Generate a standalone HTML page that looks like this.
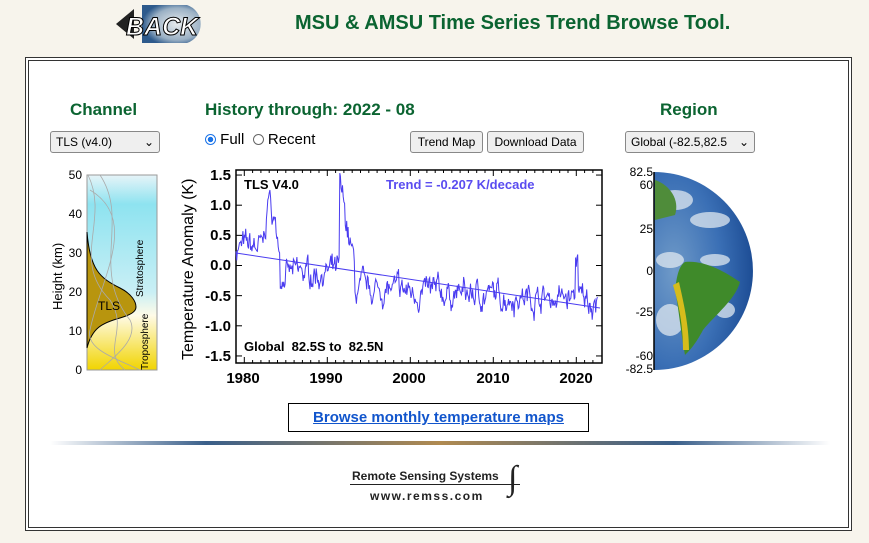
<!DOCTYPE html>
<html><head><meta charset="utf-8"><style>
body{margin:0;width:869px;height:543px;background:#f7f4ec;font-family:"Liberation Sans",sans-serif;position:relative;overflow:hidden}
.a{position:absolute}
.h{color:#0b6431;font-weight:bold}
.sel{position:absolute;border:1px solid #888;border-radius:3px;background:#efefef;font-size:12px;padding:2px 5px;box-sizing:border-box;height:22px;line-height:16px}
.btn{position:absolute;border:1px solid #888;border-radius:3px;background:#efefef;font-size:12px;height:22px;line-height:20px;text-align:center;box-sizing:border-box}
</style></head><body>
<svg class="a" style="left:112px;top:3px" width="95" height="42">
<defs><radialGradient id="bg" cx="0.6" cy="0.5" r="0.6"><stop offset="0" stop-color="#e8ecee"/><stop offset="0.7" stop-color="#9ab0c4"/><stop offset="1" stop-color="#2d5a8c"/></radialGradient></defs>
<path d="M30 2 H75 A20 20 0 0 1 75 40 H30 Z" fill="url(#bg)"/>
<polygon points="4,21 22,6 22,36" fill="#222"/>
<text x="14" y="32" font-family="Liberation Sans" font-weight="bold" font-style="italic" font-size="25" fill="#fff" stroke="#000" stroke-width="1">BACK</text>
</svg>
<div class="a h" style="left:295px;top:12px;font-size:20px">MSU &amp; AMSU Time Series Trend Browse Tool.</div>
<div class="a" style="left:25px;top:57px;width:825px;height:472px;border:1px solid #333;background:#fff"></div>
<div class="a" style="left:28px;top:60px;width:819px;height:466px;border:1px solid #333"></div>
<div class="a h" style="left:70px;top:100px;font-size:17px">Channel</div>
<div class="a h" style="left:205px;top:100px;font-size:17px">History through: 2022 - 08</div>
<div class="a h" style="left:660px;top:100px;font-size:17px">Region</div>
<div class="sel" style="left:50px;top:131px;width:110px">TLS (v4.0)<span style="float:right">⌄</span></div>
<div class="sel" style="left:625px;top:131px;width:130px">Global (-82.5,82.5<span style="float:right">⌄</span></div>
<div class="a" style="left:205px;top:131px;font-size:15px"><span style="display:inline-block;width:11px;height:11px;border:1px solid #1a73e8;border-radius:50%;vertical-align:-1px;box-sizing:border-box;background:radial-gradient(#1a73e8 40%,#fff 45%)"></span> Full &nbsp;<span style="display:inline-block;width:11px;height:11px;border:1px solid #666;border-radius:50%;vertical-align:-1px;box-sizing:border-box"></span> Recent</div>
<div class="btn" style="left:410px;top:131px;width:73px">Trend Map</div>
<div class="btn" style="left:487px;top:131px;width:97px">Download Data</div>
<svg class="a" style="left:40px;top:160px" width="200" height="230" font-family="Liberation Sans">
<defs><linearGradient id="sky" x1="0" y1="0" x2="0" y2="1"><stop offset="0" stop-color="#e6f4f8"/><stop offset="0.15" stop-color="#8ee3f0"/><stop offset="0.6" stop-color="#c9eff5"/><stop offset="0.72" stop-color="#fffbe8"/><stop offset="1" stop-color="#f1d400"/></linearGradient></defs>
<rect x="47" y="15" width="70" height="195" fill="url(#sky)" stroke="#999"/>
<path d="M47 72 C50 110,60 118,80 128 C92 134,96 142,96 147 C96 152,90 155,80 158 C62 163,52 168,47 188 Z" fill="#b8950e" stroke="#000"/>
<g fill="none" stroke="#aaa" stroke-width="0.8"><path d="M48 15 C70 60,30 100,70 140 C90 170,60 190,85 210"/><path d="M60 15 C90 60,50 110,90 160 C100 180,70 200,60 210"/><path d="M50 30 C100 60,60 120,50 170 C45 190,80 200,100 210"/></g>
<text x="58" y="150" font-size="12">TLS</text>
<text transform="translate(103,137) rotate(-90)" font-size="10">Stratosphere</text>
<text transform="translate(108,210) rotate(-90)" font-size="10">Troposphere</text>
<g font-size="12" text-anchor="end"><text x="42" y="19">50</text><text x="42" y="58">40</text><text x="42" y="97">30</text><text x="42" y="136">20</text><text x="42" y="175">10</text><text x="42" y="214">0</text></g>
<text transform="translate(22,150) rotate(-90)" font-size="13">Height  (km)</text>
</svg>
<svg class="a" style="left:175px;top:165px" width="440" height="225" font-family="Liberation Sans" id="ch">
<rect x="61" y="5" width="366" height="193" fill="#fff" stroke="#000" stroke-width="1.5"/>
<g font-size="15" font-weight="bold" text-anchor="end"><text x="56" y="15">1.5</text><text x="56" y="45">1.0</text><text x="56" y="75">0.5</text><text x="56" y="105">0.0</text><text x="56" y="136">-0.5</text><text x="56" y="166">-1.0</text><text x="56" y="196">-1.5</text></g>
<g font-size="15" font-weight="bold" text-anchor="middle"><text x="68" y="218">1980</text><text x="151" y="218">1990</text><text x="234" y="218">2000</text><text x="318" y="218">2010</text><text x="401" y="218">2020</text></g>
<text transform="translate(18,195) rotate(-90)" font-size="16">Temperature Anomaly (K)</text>
<text x="69" y="24" font-size="13" font-weight="bold">TLS V4.0</text>
<text x="211" y="24" font-size="13" font-weight="bold" fill="#5a4cf0">Trend = -0.207 K/decade</text>
<text x="69" y="186" font-size="13" font-weight="bold" xml:space="preserve">Global  82.5S to  82.5N</text>
<g id="tk" stroke="#000"></g>
<line x1="61" y1="88" x2="425" y2="143" stroke="#4a3cf0"/>
<polyline id="pl" fill="none" stroke="#4a3cf0" stroke-width="1"/>
</svg>
<script>
(function(){var s=7;function r(){s=(s*16807)%2147483647;return s/2147483647-0.5;}
var p=[],n=524,y0=100.5,k=60.3,e=0;
for(var i=0;i<n;i++){var t=1979+i/12,v;
if(t<1982.3)v=0.3;else if(t<1984.3){var d=t-1982.9;v=d<0?0.3+0.85*(1+d/0.6):1.15-0.6*d;if(v<0)v=0;}
else if(t<1991.5)v=-0.15+0.006*(t-1984);
else if(t<1994){v=1.3-0.75*(t-1991.5);if(t>1993.3)v=-0.45;}
else v=-0.4-0.006*(t-1994);
if(t>2019.9&&t<2020.2)v=0.15;
e=0.75*e+r()*0.28;
v+=e+r()*0.18;
p.push((61+(t-1979)*8.3).toFixed(1)+","+(y0-v*k).toFixed(1));}
document.getElementById("pl").setAttribute("points",p.join(" "));
var g="";for(var yr=1979;yr<=2022;yr++){var x=61+(yr-1979)*8.3;var L=(yr%10==0)?6:3;g+='<line x1="'+x+'" y1="198" x2="'+x+'" y2="'+(198-L)+'"/><line x1="'+x+'" y1="5" x2="'+x+'" y2="'+(5+L)+'"/>';}
for(var j=0;j<7;j++){var yy=y0-(1.5-j*0.5)*k;g+='<line x1="61" y1="'+yy+'" x2="67" y2="'+yy+'"/><line x1="421" y1="'+yy+'" x2="427" y2="'+yy+'"/>';}
document.getElementById("tk").innerHTML=g;})();
</script>
<svg class="a" style="left:615px;top:160px" width="150" height="220" font-family="Liberation Sans">
<defs><radialGradient id="ea" cx="0.2" cy="0.5" r="0.8"><stop offset="0" stop-color="#6f9ac8"/><stop offset="0.6" stop-color="#3a6fb5"/><stop offset="1" stop-color="#1d4d95"/></radialGradient></defs>
<path d="M39 12 A99 99 0 0 1 39 210 Z" fill="url(#ea)"/>
<g fill="#dfe8f0" opacity="0.75"><ellipse cx="60" cy="40" rx="18" ry="10"/><ellipse cx="95" cy="60" rx="20" ry="8"/><ellipse cx="55" cy="100" rx="14" ry="8"/><ellipse cx="100" cy="100" rx="15" ry="6"/><ellipse cx="55" cy="160" rx="14" ry="16"/><ellipse cx="110" cy="150" rx="10" ry="8"/></g>
<path d="M40 20 C55 25,65 40,60 55 L40 60 Z" fill="#4f8c3a"/>
<path d="M70 102 C90 100,110 112,125 122 C120 140,100 155,88 170 C80 185,75 190,70 195 C66 175,64 150,60 130 C62 115,64 106,70 102 Z" fill="#3f8a2a"/>
<path d="M58 125 C64 145,68 165,68 190 L74 190 C74 165,68 140,64 122 Z" fill="#d6bc1c"/>
<line x1="39" y1="12" x2="39" y2="210" stroke="#000" stroke-width="1.5"/>
<g font-size="12" text-anchor="end"><text x="38" y="16">82.5</text><text x="38" y="29">60</text><text x="38" y="73">25</text><text x="38" y="115">0</text><text x="38" y="156">-25</text><text x="38" y="200">-60</text><text x="38" y="213">-82.5</text></g>
</svg>
<div class="a" style="left:288px;top:403px;width:299px;height:27px;border:1px solid #000;text-align:center;line-height:27px;font-size:15px;font-weight:bold;color:#1155cc;text-decoration:underline">Browse monthly temperature maps</div>
<div class="a" style="left:50px;top:441px;width:780px;height:4px;background:linear-gradient(90deg,rgba(255,255,255,0),#3a5f8a 20%,#b08a50 50%,#3a5f8a 80%,rgba(255,255,255,0))"></div>
<div class="a" style="left:352px;top:469px;font-size:12px;font-weight:bold;color:#222">Remote Sensing Systems</div>
<div class="a" style="left:350px;top:484px;width:170px;height:1px;background:#222"></div>
<div class="a" style="left:370px;top:489px;font-size:12px;font-weight:bold;letter-spacing:1.5px;color:#222">www.remss.com</div>
<div class="a" style="left:508px;top:460px;font-size:34px;font-style:italic;font-family:'Liberation Serif',serif;color:#222">∫</div>
</body></html>
